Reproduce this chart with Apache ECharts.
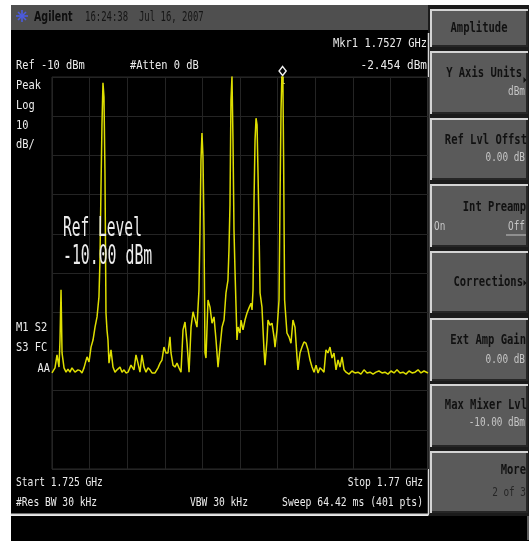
<!DOCTYPE html>
<html>
<head>
<meta charset="utf-8">
<script src="https://cdn.jsdelivr.net/npm/echarts@6/dist/echarts.min.js"></script>
<style>html,body{margin:0;padding:0;background:#fff;}#c{width:530px;height:542px;}</style>
</head>
<body>
<div id="c"></div>
<script>
const startMHz = 1725;
const stopMHz = 1770;
const refLevelDbm = -10;
const dbPerDiv = 10;
const divisions = 10;
const spanOffsetMHz = [
  0.00,0.36,0.60,0.84,0.96,1.08,1.20,1.44,1.68,1.91,2.15,2.39,2.75,3.11,3.35,3.59,3.83,4.19,4.43,4.67,
  4.91,5.15,5.39,5.62,5.74,5.86,5.98,6.10,6.22,6.34,6.46,6.58,6.70,6.82,7.06,7.30,7.54,7.78,8.14,8.38,
  8.62,8.86,9.10,9.45,9.81,10.05,10.29,10.53,10.77,11.01,11.25,11.49,11.73,11.97,12.33,12.69,12.93,13.16,13.40,13.64,
  13.88,14.12,14.24,14.48,14.72,14.96,15.20,15.44,15.68,15.92,16.16,16.40,16.64,16.88,17.11,17.35,17.59,17.71,17.83,17.95,
  18.07,18.19,18.31,18.43,18.67,18.91,19.15,19.39,19.63,19.87,20.11,20.35,20.59,20.82,21.06,21.18,21.30,21.42,21.54,21.66,
  21.78,21.90,22.14,22.26,22.50,22.62,22.86,23.10,23.34,23.58,23.82,23.94,24.06,24.18,24.30,24.42,24.54,24.66,24.78,24.90,
  25.13,25.37,25.49,25.73,25.85,26.09,26.33,26.57,26.69,26.93,27.17,27.29,27.41,27.60,27.72,27.84,28.12,28.36,28.60,28.84,
  29.08,29.32,29.44,29.68,29.92,30.16,30.40,30.64,30.88,31.12,31.36,31.60,31.84,32.07,32.31,32.55,32.79,33.03,33.27,33.51,
  33.75,33.99,34.23,34.47,34.71,34.95,35.19,35.54,35.90,36.26,36.62,36.98,37.34,37.70,38.06,38.42,38.78,39.13,39.49,39.85,
  40.21,40.57,40.93,41.29,41.65,42.01,42.37,42.73,43.09,43.45,43.81,44.16,44.52,45.00
];
const traceDbm = [
  -85.5,-84.2,-80.9,-84.0,-77.1,-64.3,-80.4,-84.2,-85.3,-84.5,-85.3,-84.2,-85.3,-84.7,-84.9,-85.5,-84.2,-81.4,-82.7,-78.9,
  -77.1,-73.8,-71.2,-66.1,-56.7,-38.8,-22.2,-11.5,-15.1,-34.5,-70.2,-74.5,-77.1,-83.0,-79.6,-84.0,-85.3,-84.7,-84.0,-85.3,
  -84.7,-85.5,-85.3,-83.5,-84.7,-80.9,-83.0,-85.3,-80.9,-84.0,-85.3,-84.2,-84.7,-85.5,-85.5,-84.2,-83.0,-82.2,-78.9,-80.4,
  -80.4,-76.3,-80.4,-83.5,-84.0,-83.0,-84.2,-85.3,-74.5,-72.5,-77.9,-85.3,-73.8,-69.9,-70.2,-73.8,-64.3,-49.0,-31.2,-24.3,
  -30.4,-49.0,-80.4,-81.7,-66.9,-68.7,-72.8,-71.2,-77.1,-84.0,-78.9,-73.8,-72.0,-65.1,-61.8,-54.1,-42.7,-15.9,-9.8,-26.1,
  -49.0,-59.2,-77.1,-73.8,-75.3,-72.0,-74.5,-72.0,-70.2,-68.9,-67.7,-69.4,-64.3,-41.4,-26.1,-20.5,-22.2,-35.0,-49.0,-65.1,
  -68.7,-79.6,-83.5,-77.1,-72.0,-73.3,-72.8,-76.3,-78.9,-74.5,-66.9,-41.4,-18.4,-2.454,-31.2,-66.9,-75.3,-76.3,-77.9,-72.0,
  -73.8,-81.4,-84.7,-80.4,-78.9,-77.6,-77.9,-79.6,-82.2,-84.0,-85.3,-83.5,-85.5,-84.2,-84.7,-85.3,-79.6,-80.4,-78.9,-81.7,
  -80.4,-84.7,-82.2,-84.0,-81.4,-84.7,-85.3,-85.8,-85.0,-85.5,-85.3,-85.8,-84.7,-85.5,-85.3,-85.8,-85.3,-85.0,-85.5,-85.3,
  -85.8,-85.0,-85.5,-84.7,-85.5,-85.3,-85.8,-85.0,-85.5,-85.3,-84.7,-85.5,-85.0,-85.5
];
const markerLabel = 'Mkr1 1.7527 GHz';
const markerValue = '-2.454 dBm';

// ---- build ----
const MONO = "'DejaVu Sans Mono','Liberation Mono',monospace";
const span = stopMHz - startMHz;
const bottomDbm = refLevelDbm - dbPerDiv * divisions;
const traceData = spanOffsetMHz.map((f, i) => [f, traceDbm[i]]);
let pk = 0;
traceDbm.forEach((v, i) => { if (v > traceDbm[pk]) pk = i; });

function T(x, y, text, o) {
  o = o || {};
  const a = o.a || 'left';
  return {
    type: 'text', x: x, y: y, scaleX: o.sx || 0.8, z: 50,
    style: {
      text: text, font: (o.w || 'normal') + ' ' + (o.s || 13) + 'px ' + (o.f || MONO),
      fill: o.c || '#ececec', textAlign: a, align: a,
      textVerticalAlign: 'middle', verticalAlign: 'middle'
    }
  };
}
function R(x, y, w, h, fill, z) {
  return { type: 'rect', shape: { x: x, y: y, width: w, height: h }, style: { fill: fill }, z: z || 1, silent: true };
}
function L(x1, y1, x2, y2, stroke, lw, z) {
  return { type: 'line', shape: { x1: x1, y1: y1, x2: x2, y2: y2 }, style: { stroke: stroke, lineWidth: lw || 1 }, z: z || 3, silent: true };
}
function tri(x, y) {
  return { type: 'polygon', shape: { points: [[x, y - 3], [x + 3, y], [x, y + 3]] }, style: { fill: '#111' }, z: 50, silent: true };
}
function button(y0, y1) {
  const h = y1 - y0;
  return [R(430, y0, 98, h, '#d4d4d4', 2), R(432, y0 + 2, 96, h - 2, '#262626', 2), R(432, y0 + 2, 94, h - 4, '#5a5a5a', 2)];
}

const g = [];
// background chrome
g.push(R(11, 5, 417, 25, '#4f4f4f', 1));          // title bar
g.push(R(11, 30, 417, 485, '#000', 1));           // display
g.push(R(428, 5, 101, 512, '#1b1b1b', 1));        // softkey panel
g.push(R(11, 516, 518, 25, '#000', 1));           // status line
g.push(L(428.5, 33, 428.5, 514, '#d8d8d8', 1.5));
g.push(L(11, 514.5, 429, 514.5, '#d8d8d8', 2));
g.push(L(528, 516, 528, 540, '#bbbbbb', 1));
// softkeys
[[9, 47], [51, 114], [118, 180], [184, 247], [251, 313], [318, 381], [384, 447], [451, 513]].forEach(b => g.push(...button(b[0], b[1])));

// logo
[[22, 10, 22, 22], [16, 16, 28, 16], [18, 12, 26, 20], [18, 20, 26, 12]].forEach(s => g.push(L(s[0], s[1], s[2], s[3], '#4b5be0', 1.6, 10)));
g.push(T(34, 17, 'Agilent', { w: 'bold', s: 14, c: '#0e0e0e', sx: 0.68, f: "'DejaVu Sans',sans-serif" }));
g.push(T(85, 17, '16:24:38  Jul 16, 2007', { c: '#151515', s: 14, sx: 0.64 }));

// display annotations
g.push(T(16, 66, 'Ref ' + refLevelDbm + ' dBm'));
g.push(T(130, 66, '#Atten 0 dB'));
g.push(T(16, 86, 'Peak'));
g.push(T(16, 106, 'Log'));
g.push(T(16, 126, String(dbPerDiv)));
g.push(T(16, 145, 'dB/'));
g.push(T(427, 44, markerLabel, { a: 'right' }));
g.push(T(427, 66, markerValue, { a: 'right', sx: 0.85 }));
g.push(T(63, 229, 'Ref Level', { s: 26, sx: 0.56 }));
g.push(T(63, 257, refLevelDbm.toFixed(2) + ' dBm', { s: 26, sx: 0.57 }));
g.push(T(16, 328, 'M1 S2'));
g.push(T(16, 348, 'S3 FC'));
g.push(T(50, 369, 'AA', { a: 'right' }));
g.push(T(16, 483, 'Start ' + (startMHz / 1000).toFixed(3) + ' GHz', { sx: 0.74 }));
g.push(T(16, 503, '#Res BW 30 kHz', { sx: 0.74 }));
g.push(T(190, 503, 'VBW 30 kHz', { sx: 0.74 }));
g.push(T(423, 483, 'Stop ' + (stopMHz / 1000) + ' GHz', { a: 'right', sx: 0.74 }));
g.push(T(423, 503, 'Sweep 64.42 ms (401 pts)', { a: 'right', sx: 0.75 }));

// softkey labels
const KB = { w: 'bold', s: 14, c: '#111', sx: 0.75 };
const KS = { s: 12, c: '#c4c4c4', sx: 0.78, a: 'right' };
g.push(T(479, 28, 'Amplitude', Object.assign({}, KB, { a: 'center' })));
g.push(T(522, 73, 'Y Axis Units', Object.assign({}, KB, { a: 'right' })));
g.push(tri(523.5, 80));
g.push(T(525, 92, 'dBm', KS));
g.push(T(527, 140, 'Ref Lvl Offst', Object.assign({}, KB, { a: 'right' })));
g.push(T(525, 158, '0.00 dB', KS));
g.push(T(526, 207, 'Int Preamp', Object.assign({}, KB, { a: 'right' })));
g.push(T(434, 227, 'On', { s: 12, c: '#c4c4c4', sx: 0.78 }));
g.push(T(525, 227, 'Off', KS));
g.push(L(506, 235, 526, 235, '#c4c4c4', 1, 50));
g.push(T(523, 282, 'Corrections', Object.assign({}, KB, { a: 'right' })));
g.push(tri(523.5, 283));
g.push(T(526, 340, 'Ext Amp Gain', Object.assign({}, KB, { a: 'right' })));
g.push(T(525, 360, '0.00 dB', KS));
g.push(T(527, 405, 'Max Mixer Lvl', Object.assign({}, KB, { a: 'right' })));
g.push(T(525, 423, '-10.00 dBm', KS));
g.push(T(526, 470, 'More', Object.assign({}, KB, { a: 'right' })));
g.push(T(526, 493, '2 of 3', Object.assign({}, KS, { c: '#262626' })));

const chart = echarts.init(document.getElementById('c'), null, { renderer: 'canvas' });
chart.setOption({
  backgroundColor: '#fff',
  animation: false,
  graphic: { elements: g },
  grid: { left: 52, top: 77, width: 376, height: 392, show: true, borderColor: '#2a2a2a', borderWidth: 1, backgroundColor: 'transparent', z: 5 },
  xAxis: {
    type: 'value', min: 0, max: span, interval: span / divisions, z: 5,
    axisLine: { show: false }, axisTick: { show: false }, axisLabel: { show: false },
    splitLine: { show: true, lineStyle: { color: '#242424', width: 1 } }
  },
  yAxis: {
    type: 'value', min: bottomDbm, max: refLevelDbm, interval: dbPerDiv, z: 5,
    axisLine: { show: false }, axisTick: { show: false }, axisLabel: { show: false },
    splitLine: { show: true, lineStyle: { color: '#242424', width: 1 } }
  },
  series: [{
    type: 'line', data: traceData, showSymbol: false, clip: true, z: 6,
    lineStyle: { color: '#dede00', width: 1.5 },
    markPoint: {
      data: [{
        coord: [spanOffsetMHz[pk], refLevelDbm], symbol: 'diamond', symbolSize: [7, 9], symbolOffset: [0, -6],
        itemStyle: { color: '#000', borderColor: '#f0f0f0', borderWidth: 1.5 },
        label: { show: true, formatter: '1', position: 'bottom', distance: 1, color: '#f0f0a0', fontSize: 9, fontFamily: MONO }
      }]
    }
  }]
});
</script>
</body>
</html>
